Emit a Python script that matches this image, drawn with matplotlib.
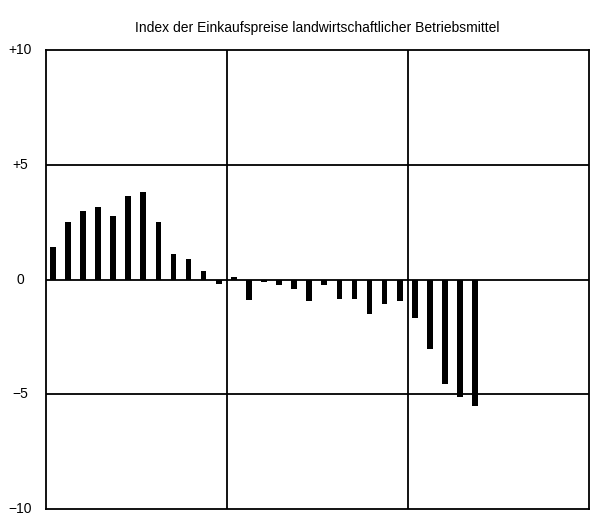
import numpy as np
import matplotlib
matplotlib.use("Agg")
import matplotlib.pyplot as plt

plt.rcParams['font.family'] = ['Liberation Sans Narrow', 'Liberation Sans', 'DejaVu Sans']

# Veraenderung gegenueber Vorjahresmonat in %, drei Jahre monatlich
jahr1 = [1.4, 2.5, 3.0, 3.15, 2.75, 3.65, 3.8, 2.5, 1.1, 0.9, 0.35, -0.2]
jahr2 = [0.1, -0.88, -0.12, -0.26, -0.4, -0.95, -0.25, -0.87, -0.87, -1.5, -1.05, -0.95]
jahr3 = [-1.66, -3.02, -4.55, -5.1, -5.5]

werte = jahr1 + jahr2 + jahr3
n_slots = 36

y_ticks = [10, 5, 0, -5, -10]
y_labels = ['+10', '+5', '0', '\u22125', '\u221210']
title = 'Index der Einkaufspreise landwirtschaftlicher Betriebsmittel'

W, H = 593, 517
fig = plt.figure(figsize=(W / 100, H / 100), dpi=100)
left, right, top, bottom = 46, 589, 50, 509
ax = fig.add_axes([left / W, 1 - bottom / H, (right - left) / W, (bottom - top) / H])

x = np.arange(len(werte)) + 0.45
ax.bar(x, werte, width=0.38, color='black', zorder=3)

ax.set_xlim(0, n_slots)
ax.set_ylim(-10, 10)

for yv in [5, 0, -5]:
    ax.axhline(yv, color='black', lw=1.3, zorder=2)
for xv in [12, 24]:
    ax.axvline(xv, color='black', lw=1.3, zorder=2)

for s in ax.spines.values():
    s.set_linewidth(1.3)

ax.set_xticks([])
ax.set_yticks([])

# y-Beschriftung links, zentriert
for yv, lab in zip(y_ticks, y_labels):
    ax.text(-26 / (right - left) * n_slots, yv, lab, ha='center', va='center',
            fontsize=10, clip_on=False)

fig.text((left + right) / 2 / W, 1 - 28 / H, title, ha='center', va='center', fontsize=10)

fig.savefig('out.png', dpi=100)
